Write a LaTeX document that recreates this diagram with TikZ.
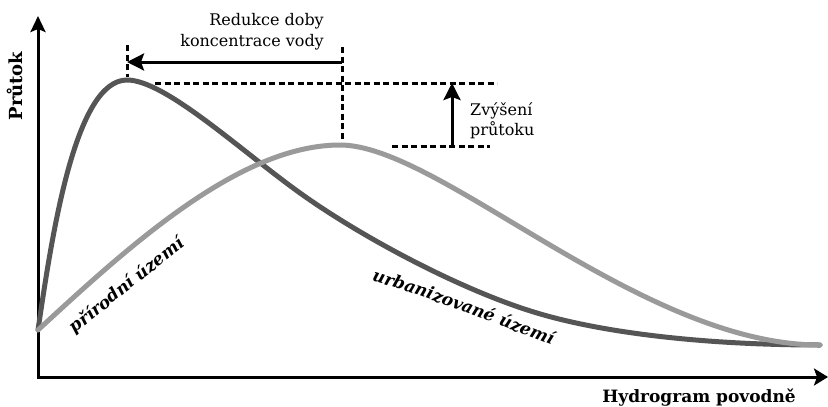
\documentclass[tikz,border=0pt]{standalone}
\usepackage{fontspec}
\setmainfont{DejaVu Serif}
\usetikzlibrary{arrows.meta,decorations.text}
\definecolor{darkcurve}{HTML}{555555}
\definecolor{lightcurve}{HTML}{9A9A9A}
\begin{document}
\begin{tikzpicture}[x=1pt,y=-1pt,
  axisline/.style={line width=3pt, line join=miter,
    {Stealth[length=16pt,width=15pt,inset=3pt]}-{Stealth[length=14pt,width=17pt,inset=3pt]}},
  guide/.style={line width=3pt, dash pattern=on 6pt off 3.5pt},
  marker/.style={line width=3pt, -{Stealth[length=17pt,width=17pt,inset=3pt]}},
  urban/.style={line width=5pt, draw=darkcurve, line cap=round},
  natural/.style={line width=5pt, draw=lightcurve, line cap=round},
  lbl/.style={font=\fontsize{16}{21}\selectfont, inner sep=0pt},
  curvefont/.style={font=\bfseries\itshape\fontsize{17}{20}\selectfont},
  curvelbl/.style={decorate, decoration={text along path, text align=center,
    text={|\bfseries\itshape\fontsize{17}{20}\selectfont|#1}}}
 ]
\useasboundingbox (0,0) rectangle (828,407);
\fill[white] (0,0) rectangle (828,407);

% axes
\coordinate (Ytop) at (38,16);
\coordinate (O) at (38,377);
\coordinate (Xend) at (828,377);
\draw[axisline] (Ytop) -- (O) -- (Xend);

% curves
\draw[urban] (38,330) .. controls (52,235) and (75,80) .. (127,80)
  .. controls (165,80) and (240,150) .. (300,193)
  .. controls (360,236) and (460,290) .. (537,313)
  .. controls (600,332) and (700,345) .. (820,345);
\draw[natural] (38,330) .. controls (130,245) and (240,145) .. (340,145)
  .. controls (440,145) and (640,345) .. (820,345);

% guides
\coordinate (m1top) at (127,45);
\coordinate (m1bot) at (127,77);
\coordinate (m2top) at (342,47);
\coordinate (m2bot) at (342,141);
\coordinate (r1) at (342,62);
\coordinate (r2) at (127,62);
\coordinate (h1a) at (155,83);
\coordinate (h1b) at (497,83);
\coordinate (h2a) at (392,146);
\coordinate (h2b) at (490,146);
\coordinate (v1) at (452,146);
\coordinate (v2) at (452,83);
\draw[guide] (m1top) -- (m1bot);
\draw[guide] (m2top) -- (m2bot);
\draw[guide] (h1a) -- (h1b);
\draw[guide] (h2a) -- (h2b);
\draw[marker] (r1) -- (r2);
\draw[marker] (v1) -- (v2);

% labels
\node[lbl, align=right, anchor=east] (redukce) at (324,32) {Redukce doby\\koncentrace vody};
\node[lbl, align=left, anchor=west, font=\fontsize{16}{20}\selectfont] (zvyseni) at (470,120.5) {Zvýšení\\průtoku};
\node[font=\bfseries\fontsize{18}{20}\selectfont, rotate=90, anchor=base, inner sep=0pt] (prutok) at (23,86) {Průtok};
\node[font=\bfseries\fontsize{17}{20}\selectfont, anchor=base, inner sep=0pt] (hydro) at (699,402) {Hydrogram povodně};

\node[curvefont, rotate=38.7, anchor=base, inner sep=0pt] (prirodni) at (130,289.5) {přírodní území};
\path[curvelbl={urbanizované území}] (366,279) .. controls (420,294) and (480,318) .. (557,347);
\end{tikzpicture}
\end{document}
